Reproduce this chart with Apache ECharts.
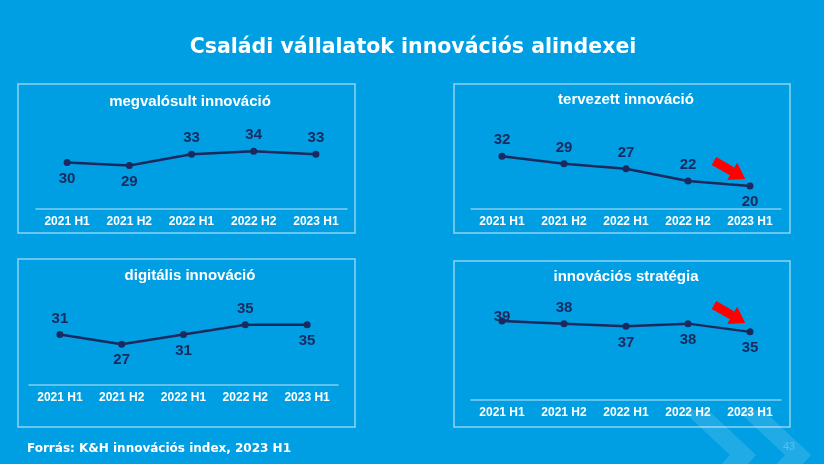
<!DOCTYPE html>
<html>
<head>
<meta charset="utf-8">
<script src="https://cdn.jsdelivr.net/npm/echarts@6/dist/echarts.min.js"></script>
<style>
  html, body { margin: 0; padding: 0; background: #009FE3; }
  #chart { width: 824px; height: 464px; }
</style>
</head>
<body>
<div id="chart"></div>
<script>
let periods = ['2021 H1', '2021 H2', '2022 H1', '2022 H2', '2023 H1']
let megvalosult = [30, 29, 33, 34, 33]
let tervezett = [32, 29, 27, 22, 20]
let digitalis = [31, 27, 31, 35, 35]
let strategia = [39, 38, 37, 38, 35]

// where each value label sits (above / below the point)
let pos1 = ['bottom', 'bottom', 'top', 'top', 'top']
let pos2 = ['top', 'top', 'top', 'top', 'bottom']
let pos3 = ['top', 'bottom', 'bottom', 'top', 'bottom']
let pos4 = ['top', 'top', 'bottom', 'bottom', 'bottom']

const navy = '#1A2A5E'
const frame = 'rgba(255,255,255,0.55)'

function seriesData (vals, pos) {
  return vals.map(function (v, i) {
    let d = { value: v, label: { position: pos[i] } }
    if (i === 0 && v === 39) { d.label.distance = -7 }
    return d
  })
}

function xAxis (idx) {
  return {
    type: 'category',
    gridIndex: idx,
    data: periods,
    boundaryGap: true,
    axisLine: { show: true, lineStyle: { color: 'rgba(255,255,255,0.5)', width: 1.5 } },
    axisTick: { show: false },
    splitLine: { show: false },
    axisLabel: {
      color: '#fff',
      fontSize: 12,
      fontWeight: 'bold',
      fontFamily: 'Liberation Sans',
      margin: 7
    }
  }
}

function yAxis (idx, min, max) {
  return { type: 'value', gridIndex: idx, min: min, max: max, show: false }
}

function line (idx, vals, pos) {
  return {
    type: 'line',
    xAxisIndex: idx,
    yAxisIndex: idx,
    data: seriesData(vals, pos),
    symbol: 'circle',
    symbolSize: 7,
    lineStyle: { color: navy, width: 2.5 },
    itemStyle: { color: navy },
    label: {
      show: true,
      color: navy,
      fontSize: 15,
      fontWeight: 'bold',
      fontFamily: 'Liberation Sans',
      distance: 5
    },
    animation: false
  }
}

function panelTitle (text, x, y) {
  return {
    text: text,
    left: x,
    top: y,
    textAlign: 'center',
    textStyle: { color: '#fff', fontSize: 15, fontWeight: 'bold', fontFamily: 'Liberation Sans' }
  }
}

function box (x1, y1, x2, y2) {
  return {
    type: 'rect',
    shape: { x: x1, y: y1, width: x2 - x1, height: y2 - y1 },
    style: { fill: 'none', stroke: frame, lineWidth: 1.5 },
    z: 1
  }
}

function arrow (x, y) {
  return {
    type: 'polygon',
    x: x,
    y: y,
    rotation: -0.52,
    shape: { points: [[0, -4.5], [21, -4.5], [21, -10], [36, 0], [21, 10], [21, 4.5], [0, 4.5]] },
    style: { fill: '#FF0000' },
    z: 10
  }
}

function chevron (dx) {
  return {
    type: 'polygon',
    shape: { points: [[682 + dx, 410], [708 + dx, 410], [756 + dx, 455], [737 + dx, 476], [711 + dx, 476], [730 + dx, 455]] },
    style: { fill: 'rgba(255,255,255,0.13)' },
    z: 0
  }
}

let myChart = echarts.init(document.getElementById('chart'))
myChart.setOption({
  backgroundColor: '#009FE3',
  title: [
    {
      text: 'Családi vállalatok innovációs alindexei',
      left: 408,
      top: 32,
      textAlign: 'center',
      textStyle: { color: '#fff', fontSize: 20.5, fontWeight: 'bold', fontFamily: 'DejaVu Sans' }
    },
    panelTitle('megvalósult innováció', 185, 89),
    panelTitle('tervezett innováció', 621, 87),
    panelTitle('digitális innováció', 185, 263),
    panelTitle('innovációs stratégia', 621, 264),
    {
      text: 'Forrás: K&H innovációs index, 2023 H1',
      left: 22,
      top: 438,
      textStyle: { color: '#fff', fontSize: 12, fontWeight: 'bold', fontFamily: 'DejaVu Sans' }
    },
    {
      text: '43',
      left: 778,
      top: 436,
      textStyle: { color: 'rgba(255,255,255,0.25)', fontSize: 11, fontWeight: 'normal', fontFamily: 'Liberation Sans' }
    }
  ],
  grid: [
    { left: 36, top: 119, width: 311, height: 90 },
    { left: 471, top: 119, width: 310, height: 90 },
    { left: 29, top: 294, width: 309, height: 91 },
    { left: 471, top: 300, width: 310, height: 100 }
  ],
  xAxis: [xAxis(0), xAxis(1), xAxis(2), xAxis(3)],
  yAxis: [yAxis(0, 13.5, 45.5), yAxis(1, 10.7, 47.1), yAxis(2, 10.4, 47.5), yAxis(3, 10.2, 46.6)],
  series: [
    line(0, megvalosult, pos1),
    line(1, tervezett, pos2),
    line(2, digitalis, pos3),
    line(3, strategia, pos4)
  ],
  graphic: [
    chevron(0),
    chevron(55),
    box(18, 84, 355, 233),
    box(454, 84, 790, 233),
    box(18, 259, 355, 427),
    box(454, 261, 790, 427),
    arrow(714, 161),
    arrow(714, 305)
  ]
})
</script>
</body>
</html>
